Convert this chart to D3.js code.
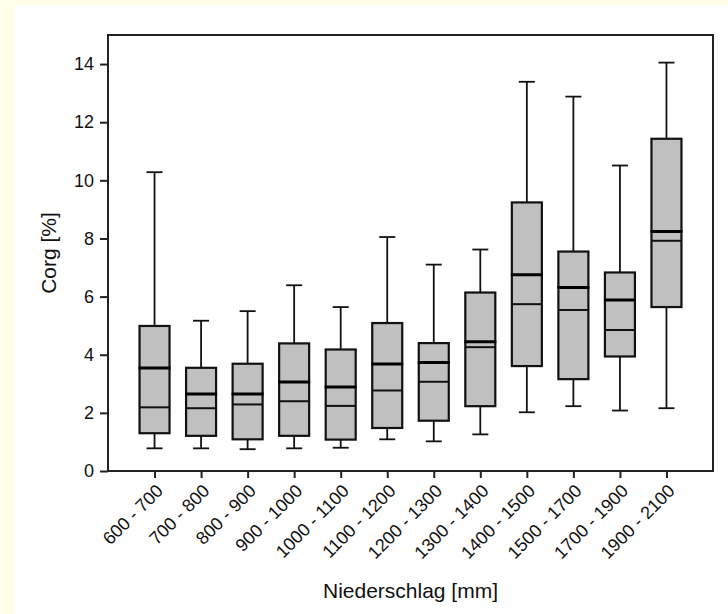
<!DOCTYPE html>
<html>
<head>
<meta charset="utf-8">
<script src="https://cdn.jsdelivr.net/npm/d3@7/dist/d3.min.js"></script>
<style>
  html, body { margin: 0; padding: 0; background: #FFFFE8; }
  svg { display: block; }
  text { font-family: "Liberation Sans", Arial, sans-serif; fill: #111; }
</style>
</head>
<body>
<script>
const categories = ["600 - 700","700 - 800","800 - 900","900 - 1000","1000 - 1100","1100 - 1200","1200 - 1300","1300 - 1400","1400 - 1500","1500 - 1700","1700 - 1900","1900 - 2100"];
const whiskerLow  = [0.78, 0.78, 0.75, 0.78, 0.80, 1.09, 1.02, 1.26, 2.02, 2.23, 2.08, 2.16];
const q1          = [1.30, 1.21, 1.09, 1.21, 1.08, 1.48, 1.73, 2.23, 3.61, 3.16, 3.94, 5.64];
const median      = [2.19, 2.16, 2.29, 2.40, 2.24, 2.77, 3.07, 4.26, 5.74, 5.54, 4.85, 7.92];
const mean        = [3.54, 2.65, 2.65, 3.06, 2.89, 3.68, 3.73, 4.45, 6.75, 6.31, 5.88, 8.24];
const q3          = [4.99, 3.55, 3.69, 4.39, 4.18, 5.09, 4.40, 6.14, 9.24, 7.55, 6.83, 11.43];
const whiskerHigh = [10.28, 5.17, 5.50, 6.39, 5.64, 8.05, 7.10, 7.62, 13.39, 12.88, 10.51, 14.05];
const yTicks = [0, 2, 4, 6, 8, 10, 12, 14];
const xTitle = "Niederschlag [mm]";
const yTitle = "Corg [%]";

const W = 728, H = 614;
const frame = {left: 108, top: 35, right: 713, bottom: 471};

const svg = d3.select("body").append("svg").attr("width", W).attr("height", H);
svg.append("rect").attr("x", 0).attr("y", 0).attr("width", W).attr("height", H).attr("fill", "#FFFFE8");
svg.append("rect").attr("x", 14).attr("y", 5).attr("width", W - 14).attr("height", H - 5).attr("fill", "#FFFFFF");

const x = d3.scalePoint().domain(categories).range([frame.left, frame.right]).padding(1);
const y = d3.scaleLinear().domain([0, 15]).range([frame.bottom, frame.top]);

const data = categories.map((c, i) => ({
  c, lo: whiskerLow[i], q1: q1[i], med: median[i], mean: mean[i], q3: q3[i], hi: whiskerHigh[i]
}));

const boxW = 30, capW = 16;
const g = svg.append("g");
const boxes = g.selectAll("g.box").data(data).join("g").attr("class", "box");

// whiskers
boxes.append("line").attr("x1", d => x(d.c)).attr("x2", d => x(d.c))
  .attr("y1", d => y(d.q3)).attr("y2", d => y(d.hi)).attr("stroke", "#111").attr("stroke-width", 1.8);
boxes.append("line").attr("x1", d => x(d.c)).attr("x2", d => x(d.c))
  .attr("y1", d => y(d.q1)).attr("y2", d => y(d.lo)).attr("stroke", "#111").attr("stroke-width", 1.8);
boxes.append("line").attr("x1", d => x(d.c) - capW/2).attr("x2", d => x(d.c) + capW/2)
  .attr("y1", d => y(d.hi)).attr("y2", d => y(d.hi)).attr("stroke", "#111").attr("stroke-width", 1.8);
boxes.append("line").attr("x1", d => x(d.c) - capW/2).attr("x2", d => x(d.c) + capW/2)
  .attr("y1", d => y(d.lo)).attr("y2", d => y(d.lo)).attr("stroke", "#111").attr("stroke-width", 1.8);
// box
boxes.append("rect").attr("x", d => x(d.c) - boxW/2).attr("width", boxW)
  .attr("y", d => y(d.q3)).attr("height", d => y(d.q1) - y(d.q3))
  .attr("fill", "#C0C0C0").attr("stroke", "#111").attr("stroke-width", 2.2);
// median (thin)
boxes.append("line").attr("x1", d => x(d.c) - boxW/2).attr("x2", d => x(d.c) + boxW/2)
  .attr("y1", d => y(d.med)).attr("y2", d => y(d.med)).attr("stroke", "#111").attr("stroke-width", 2);
// mean (thick)
boxes.append("line").attr("x1", d => x(d.c) - boxW/2 - 1).attr("x2", d => x(d.c) + boxW/2 + 1)
  .attr("y1", d => y(d.mean)).attr("y2", d => y(d.mean)).attr("stroke", "#000").attr("stroke-width", 3);

// frame
svg.append("rect").attr("x", frame.left).attr("y", frame.top)
  .attr("width", frame.right - frame.left).attr("height", frame.bottom - frame.top)
  .attr("fill", "none").attr("stroke", "#222").attr("stroke-width", 2);

// y axis
const yAxis = svg.append("g").attr("transform", `translate(${frame.left},0)`)
  .call(d3.axisLeft(y).tickValues(yTicks).tickSize(8).tickPadding(6).tickFormat(d3.format("d")));
yAxis.attr("font-size", 18);
yAxis.select(".domain").remove();
yAxis.selectAll(".tick line").attr("stroke", "#222").attr("stroke-width", 2);
yAxis.selectAll(".tick text").style("font-size", "18px").attr("fill", "#111");

// x axis
const xAxis = svg.append("g").attr("transform", `translate(0,${frame.bottom})`)
  .call(d3.axisBottom(x).tickSize(7).tickPadding(4));
xAxis.attr("font-size", 18);
xAxis.select(".domain").remove();
xAxis.selectAll(".tick line").attr("stroke", "#222").attr("stroke-width", 2);
xAxis.selectAll(".tick text")
  .style("font-size", "18px").attr("fill", "#111")
  .attr("text-anchor", "end")
  .attr("y", 0).attr("dy", "0")
  .attr("transform", "translate(9,21) rotate(-45)");

// titles
svg.append("text").attr("x", (frame.left + frame.right) / 2).attr("y", 598)
  .attr("text-anchor", "middle").style("font-size", "21px").text(xTitle);
svg.append("text").attr("transform", `translate(56,${(frame.top + frame.bottom) / 2}) rotate(-90)`)
  .attr("text-anchor", "middle").style("font-size", "21px").text(yTitle);
</script>
</body>
</html>
